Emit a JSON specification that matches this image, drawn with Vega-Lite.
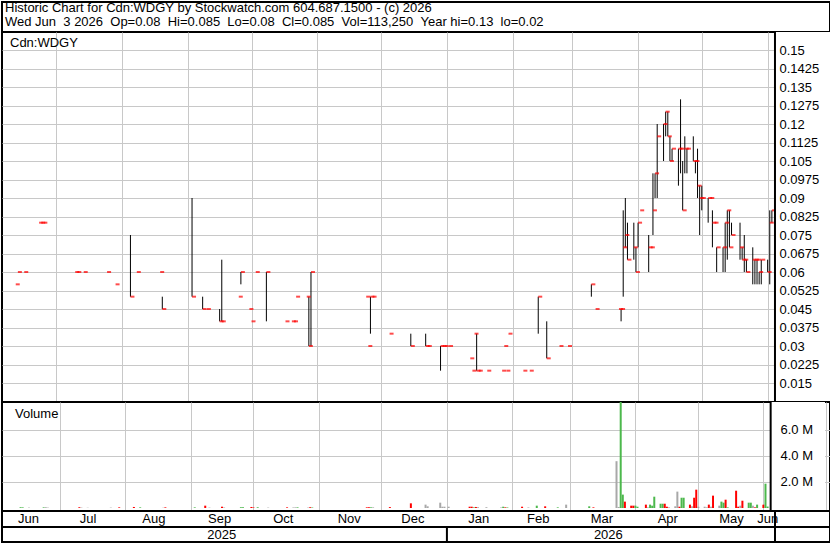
{
  "$schema": "https://vega.github.io/schema/vega-lite/v6.json",
  "background": "white",
  "padding": {"left": 1, "top": 1, "right": 1, "bottom": 1},
  "spacing": 0,
  "bounds": "flush",
  "config": {
    "font": "Liberation Sans",
    "view": {"stroke": "black", "strokeWidth": 2},
    "axis": {"labelFont": "Liberation Sans", "labelFontSize": 13, "labelColor": "black", "gridColor": "#c8c8c8", "gridWidth": 1, "gridOpacity": 1}
  },
  "datasets": {
    "bars": [
      {"d":"2025-06-12","h":0.055,"l":0.055,"c":0.055,"v":60000,"chg":"up"},
      {"d":"2025-06-13","h":0.06,"l":0.06,"c":0.06,"v":50000,"chg":"up"},
      {"d":"2025-06-16","h":0.06,"l":0.06,"c":0.06,"v":30000,"chg":"flat"},
      {"d":"2025-06-23","h":0.08,"l":0.08,"c":0.08,"v":50000,"chg":"up"},
      {"d":"2025-06-24","h":0.08,"l":0.08,"c":0.08,"v":60000,"chg":"flat"},
      {"d":"2025-06-25","h":0.08,"l":0.08,"c":0.08,"v":30000,"chg":"flat"},
      {"d":"2025-07-10","h":0.06,"l":0.06,"c":0.06,"v":60000,"chg":"down"},
      {"d":"2025-07-11","h":0.06,"l":0.06,"c":0.06,"v":30000,"chg":"flat"},
      {"d":"2025-07-14","h":0.06,"l":0.06,"c":0.06,"v":20000,"chg":"flat"},
      {"d":"2025-07-25","h":0.06,"l":0.06,"c":0.06,"v":30000,"chg":"flat"},
      {"d":"2025-07-29","h":0.055,"l":0.055,"c":0.055,"v":50000,"chg":"down"},
      {"d":"2025-08-05","h":0.075,"l":0.05,"c":0.05,"v":80000,"chg":"down"},
      {"d":"2025-08-08","h":0.06,"l":0.06,"c":0.06,"v":50000,"chg":"up"},
      {"d":"2025-08-19","h":0.06,"l":0.06,"c":0.06,"v":20000,"chg":"flat"},
      {"d":"2025-08-20","h":0.05,"l":0.045,"c":0.045,"v":50000,"chg":"down"},
      {"d":"2025-09-03","h":0.09,"l":0.05,"c":0.05,"v":50000,"chg":"up"},
      {"d":"2025-09-08","h":0.05,"l":0.045,"c":0.045,"v":180000,"chg":"down"},
      {"d":"2025-09-10","h":0.045,"l":0.045,"c":0.045,"v":30000,"chg":"flat"},
      {"d":"2025-09-16","h":0.045,"l":0.04,"c":0.04,"v":100000,"chg":"down"},
      {"d":"2025-09-17","h":0.065,"l":0.04,"c":0.04,"v":40000,"chg":"flat"},
      {"d":"2025-09-25","h":0.05,"l":0.05,"c":0.05,"v":60000,"chg":"up"},
      {"d":"2025-09-26","h":0.06,"l":0.055,"c":0.06,"v":60000,"chg":"up"},
      {"d":"2025-09-30","h":0.045,"l":0.045,"c":0.045,"v":80000,"chg":"down"},
      {"d":"2025-10-01","h":0.04,"l":0.04,"c":0.04,"v":40000,"chg":"down"},
      {"d":"2025-10-03","h":0.06,"l":0.06,"c":0.06,"v":50000,"chg":"up"},
      {"d":"2025-10-08","h":0.06,"l":0.04,"c":0.06,"v":30000,"chg":"flat"},
      {"d":"2025-10-17","h":0.04,"l":0.04,"c":0.04,"v":50000,"chg":"down"},
      {"d":"2025-10-20","h":0.04,"l":0.04,"c":0.04,"v":40000,"chg":"flat"},
      {"d":"2025-10-21","h":0.04,"l":0.04,"c":0.04,"v":50000,"chg":"flat"},
      {"d":"2025-10-22","h":0.05,"l":0.05,"c":0.05,"v":50000,"chg":"up"},
      {"d":"2025-10-27","h":0.05,"l":0.05,"c":0.05,"v":30000,"chg":"flat"},
      {"d":"2025-10-28","h":0.05,"l":0.03,"c":0.03,"v":60000,"chg":"down"},
      {"d":"2025-10-29","h":0.06,"l":0.03,"c":0.06,"v":40000,"chg":"up"},
      {"d":"2025-11-24","h":0.05,"l":0.05,"c":0.05,"v":50000,"chg":"down"},
      {"d":"2025-11-25","h":0.03,"l":0.03,"c":0.03,"v":60000,"chg":"down"},
      {"d":"2025-11-26","h":0.05,"l":0.035,"c":0.05,"v":50000,"chg":"up"},
      {"d":"2025-11-27","h":0.05,"l":0.05,"c":0.05,"v":50000,"chg":"flat"},
      {"d":"2025-12-05","h":0.035,"l":0.035,"c":0.035,"v":70000,"chg":"down"},
      {"d":"2025-12-15","h":0.035,"l":0.03,"c":0.03,"v":360000,"chg":"down"},
      {"d":"2025-12-22","h":0.035,"l":0.03,"c":0.03,"v":260000,"chg":"flat"},
      {"d":"2025-12-23","h":0.03,"l":0.03,"c":0.03,"v":130000,"chg":"flat"},
      {"d":"2025-12-29","h":0.03,"l":0.02,"c":0.03,"v":410000,"chg":"flat"},
      {"d":"2025-12-30","h":0.03,"l":0.03,"c":0.03,"v":100000,"chg":"flat"},
      {"d":"2025-12-31","h":0.03,"l":0.03,"c":0.03,"v":100000,"chg":"flat"},
      {"d":"2026-01-02","h":0.03,"l":0.03,"c":0.03,"v":100000,"chg":"flat"},
      {"d":"2026-01-12","h":0.025,"l":0.025,"c":0.025,"v":100000,"chg":"down"},
      {"d":"2026-01-13","h":0.02,"l":0.02,"c":0.02,"v":100000,"chg":"down"},
      {"d":"2026-01-14","h":0.035,"l":0.035,"c":0.035,"v":50000,"chg":"up"},
      {"d":"2026-01-15","h":0.035,"l":0.02,"c":0.02,"v":80000,"chg":"down"},
      {"d":"2026-01-16","h":0.02,"l":0.02,"c":0.02,"v":60000,"chg":"flat"},
      {"d":"2026-01-20","h":0.02,"l":0.02,"c":0.02,"v":60000,"chg":"flat"},
      {"d":"2026-01-27","h":0.02,"l":0.02,"c":0.02,"v":40000,"chg":"flat"},
      {"d":"2026-01-28","h":0.03,"l":0.03,"c":0.03,"v":100000,"chg":"up"},
      {"d":"2026-01-29","h":0.02,"l":0.02,"c":0.02,"v":50000,"chg":"down"},
      {"d":"2026-01-30","h":0.035,"l":0.035,"c":0.035,"v":40000,"chg":"up"},
      {"d":"2026-02-06","h":0.02,"l":0.02,"c":0.02,"v":100000,"chg":"down"},
      {"d":"2026-02-09","h":0.02,"l":0.02,"c":0.02,"v":40000,"chg":"flat"},
      {"d":"2026-02-13","h":0.05,"l":0.035,"c":0.05,"v":180000,"chg":"up"},
      {"d":"2026-02-17","h":0.04,"l":0.025,"c":0.025,"v":130000,"chg":"down"},
      {"d":"2026-02-23","h":0.03,"l":0.03,"c":0.03,"v":50000,"chg":"up"},
      {"d":"2026-02-27","h":0.03,"l":0.03,"c":0.03,"v":260000,"chg":"flat"},
      {"d":"2026-03-10","h":0.055,"l":0.05,"c":0.055,"v":130000,"chg":"up"},
      {"d":"2026-03-12","h":0.045,"l":0.045,"c":0.045,"v":50000,"chg":"down"},
      {"d":"2026-03-23","h":0.045,"l":0.045,"c":0.045,"v":3600000,"chg":"flat"},
      {"d":"2026-03-24","h":0.045,"l":0.04,"c":0.045,"v":80000,"chg":"flat"},
      {"d":"2026-03-25","h":0.085,"l":0.05,"c":0.07,"v":9500000,"chg":"up"},
      {"d":"2026-03-26","h":0.09,"l":0.07,"c":0.075,"v":1030000,"chg":"up"},
      {"d":"2026-03-27","h":0.08,"l":0.065,"c":0.065,"v":490000,"chg":"down"},
      {"d":"2026-03-30","h":0.08,"l":0.065,"c":0.07,"v":180000,"chg":"down"},
      {"d":"2026-03-31","h":0.07,"l":0.06,"c":0.06,"v":180000,"chg":"down"},
      {"d":"2026-04-01","h":0.08,"l":0.07,"c":0.08,"v":180000,"chg":"up"},
      {"d":"2026-04-02","h":0.085,"l":0.085,"c":0.085,"v":100000,"chg":"up"},
      {"d":"2026-04-06","h":0.075,"l":0.06,"c":0.07,"v":260000,"chg":"down"},
      {"d":"2026-04-07","h":0.07,"l":0.07,"c":0.07,"v":50000,"chg":"flat"},
      {"d":"2026-04-08","h":0.1,"l":0.075,"c":0.085,"v":260000,"chg":"up"},
      {"d":"2026-04-09","h":0.1,"l":0.09,"c":0.1,"v":180000,"chg":"up"},
      {"d":"2026-04-10","h":0.12,"l":0.09,"c":0.115,"v":870000,"chg":"up"},
      {"d":"2026-04-13","h":0.12,"l":0.105,"c":0.12,"v":330000,"chg":"up"},
      {"d":"2026-04-14","h":0.125,"l":0.115,"c":0.125,"v":330000,"chg":"up"},
      {"d":"2026-04-15","h":0.125,"l":0.115,"c":0.115,"v":330000,"chg":"down"},
      {"d":"2026-04-16","h":0.115,"l":0.105,"c":0.105,"v":100000,"chg":"down"},
      {"d":"2026-04-17","h":0.11,"l":0.105,"c":0.11,"v":50000,"chg":"flat"},
      {"d":"2026-04-20","h":0.11,"l":0.095,"c":0.11,"v":130000,"chg":"flat"},
      {"d":"2026-04-21","h":0.13,"l":0.1,"c":0.11,"v":1260000,"chg":"flat"},
      {"d":"2026-04-22","h":0.105,"l":0.085,"c":0.085,"v":100000,"chg":"down"},
      {"d":"2026-04-23","h":0.115,"l":0.1,"c":0.11,"v":790000,"chg":"up"},
      {"d":"2026-04-24","h":0.11,"l":0.1,"c":0.11,"v":790000,"chg":"up"},
      {"d":"2026-04-27","h":0.115,"l":0.105,"c":0.105,"v":260000,"chg":"down"},
      {"d":"2026-04-28","h":0.105,"l":0.1,"c":0.105,"v":130000,"chg":"flat"},
      {"d":"2026-04-29","h":0.11,"l":0.09,"c":0.095,"v":790000,"chg":"down"},
      {"d":"2026-04-30","h":0.095,"l":0.075,"c":0.09,"v":1410000,"chg":"down"},
      {"d":"2026-05-01","h":0.095,"l":0.085,"c":0.09,"v":100000,"chg":"flat"},
      {"d":"2026-05-04","h":0.09,"l":0.08,"c":0.09,"v":100000,"chg":"flat"},
      {"d":"2026-05-05","h":0.09,"l":0.09,"c":0.09,"v":50000,"chg":"flat"},
      {"d":"2026-05-06","h":0.085,"l":0.07,"c":0.08,"v":260000,"chg":"down"},
      {"d":"2026-05-07","h":0.08,"l":0.08,"c":0.08,"v":100000,"chg":"flat"},
      {"d":"2026-05-08","h":0.07,"l":0.06,"c":0.07,"v":950000,"chg":"down"},
      {"d":"2026-05-11","h":0.07,"l":0.06,"c":0.07,"v":180000,"chg":"flat"},
      {"d":"2026-05-12","h":0.08,"l":0.06,"c":0.08,"v":490000,"chg":"up"},
      {"d":"2026-05-13","h":0.085,"l":0.065,"c":0.085,"v":410000,"chg":"up"},
      {"d":"2026-05-14","h":0.085,"l":0.07,"c":0.07,"v":640000,"chg":"down"},
      {"d":"2026-05-15","h":0.08,"l":0.075,"c":0.075,"v":50000,"chg":"up"},
      {"d":"2026-05-19","h":0.08,"l":0.065,"c":0.07,"v":1330000,"chg":"down"},
      {"d":"2026-05-20","h":0.07,"l":0.065,"c":0.065,"v":100000,"chg":"down"},
      {"d":"2026-05-21","h":0.075,"l":0.06,"c":0.065,"v":180000,"chg":"flat"},
      {"d":"2026-05-22","h":0.065,"l":0.06,"c":0.06,"v":560000,"chg":"down"},
      {"d":"2026-05-25","h":0.07,"l":0.055,"c":0.065,"v":410000,"chg":"up"},
      {"d":"2026-05-26","h":0.065,"l":0.055,"c":0.065,"v":410000,"chg":"up"},
      {"d":"2026-05-27","h":0.065,"l":0.055,"c":0.065,"v":180000,"chg":"flat"},
      {"d":"2026-05-28","h":0.06,"l":0.055,"c":0.06,"v":50000,"chg":"down"},
      {"d":"2026-05-29","h":0.065,"l":0.055,"c":0.065,"v":260000,"chg":"up"},
      {"d":"2026-06-01","h":0.065,"l":0.06,"c":0.06,"v":260000,"chg":"down"},
      {"d":"2026-06-02","h":0.085,"l":0.055,"c":0.08,"v":1870000,"chg":"up"},
      {"d":"2026-06-03","h":0.085,"l":0.08,"c":0.085,"v":113250,"chg":"up"}
    ],
    "months": [
      {"d":"2025-06-18","t":"Jun"},
      {"d":"2025-07-16","t":"Jul"},
      {"d":"2025-08-16","t":"Aug"},
      {"d":"2025-09-16","t":"Sep"},
      {"d":"2025-10-16","t":"Oct"},
      {"d":"2025-11-16","t":"Nov"},
      {"d":"2025-12-16","t":"Dec"},
      {"d":"2026-01-16","t":"Jan"},
      {"d":"2026-02-13","t":"Feb"},
      {"d":"2026-03-15","t":"Mar"},
      {"d":"2026-04-15","t":"Apr"},
      {"d":"2026-05-15","t":"May"},
      {"d":"2026-06-01","t":"Jun"}
    ],
    "years": [
      {"d":"2025-09-17","t":"2025"},
      {"d":"2026-03-18","t":"2026"}
    ],
    "header": [
      {"line": 1, "t": "Historic Chart for Cdn:WDGY by Stockwatch.com 604.687.1500 - (c) 2026"},
      {"line": 2, "t": "Wed Jun \u00a03 2026 \u00a0Op=0.08 \u00a0Hi=0.085 \u00a0Lo=0.08 \u00a0Cl=0.085 \u00a0Vol=113,250 \u00a0Year hi=0.13 \u00a0lo=0.02"}
    ]
  },
  "vconcat": [
    {
      "width": 828,
      "height": 30,
      "data": {"name": "header"},
      "mark": {"type": "text", "align": "left", "baseline": "middle", "fontSize": 13, "color": "black", "dx": 3},
      "encoding": {
        "x": {"datum": {"year": 2025, "month": 6, "date": 5, "hours": 12, "minutes": 42, "utc": true}, "type": "temporal", "axis": null,
              "scale": {"type": "utc", "nice": false, "domain": [{"year": 2025, "month": 6, "date": 5, "hours": 12, "minutes": 42, "utc": true}, {"year": 2026, "month": 6, "date": 30, "hours": 8, "minutes": 40, "utc": true}]}},
        "y": {"field": "line", "type": "quantitative", "axis": null, "scale": {"domain": [0.533, 2.756], "reverse": true, "nice": false, "zero": false}},
        "text": {"field": "t"}
      }
    },
    {
      "width": 828,
      "height": 370,
      "data": {"name": "bars"},
      "layer": [
        {
          "data": {"values": [{}]},
          "mark": {"type": "rect", "fill": "white"},
          "encoding": {
            "x": {"datum": {"year": 2026, "month": 6, "date": 4, "hours": 11, "utc": true}, "type": "temporal",
                  "scale": {"type": "utc", "nice": false, "domain": [{"year": 2025, "month": 6, "date": 5, "hours": 12, "minutes": 42, "utc": true}, {"year": 2026, "month": 6, "date": 30, "hours": 8, "minutes": 40, "utc": true}]}},
            "x2": {"datum": {"year": 2026, "month": 6, "date": 30, "hours": 8, "minutes": 40, "utc": true}},
            "y": {"datum": 0.0073, "type": "quantitative", "scale": {"domain": [0.0073, 0.1573], "nice": false, "zero": false},
                  "axis": {"orient": "right", "offset": -55, "grid": false, "ticks": false, "domain": false, "labelPadding": 4, "zindex": 1, "title": null,
                           "labelExpr": "'' + datum.value",
                           "values": [0.015, 0.0225, 0.03, 0.0375, 0.045, 0.0525, 0.06, 0.0675, 0.075, 0.0825, 0.09, 0.0975, 0.105, 0.1125, 0.12, 0.1275, 0.135, 0.1425, 0.15]}},
            "y2": {"datum": 0.1573}
          }
        },
        {
          "mark": {"type": "rule", "color": "black", "strokeWidth": 1},
          "encoding": {
            "x": {"field": "d", "type": "temporal",
                  "axis": {"grid": true, "labels": false, "ticks": false, "domain": false, "title": null, "tickCount": {"interval": "month", "step": 1}}},
            "y": {"field": "h", "type": "quantitative",
                  "axis": {"orient": "left", "grid": true, "labels": false, "ticks": false, "domain": false, "title": null,
                           "values": [0.015, 0.0225, 0.03, 0.0375, 0.045, 0.0525, 0.06, 0.0675, 0.075, 0.0825, 0.09, 0.0975, 0.105, 0.1125, 0.12, 0.1275, 0.135, 0.1425, 0.15]}},
            "y2": {"field": "l"}
          }
        },
        {
          "mark": {"type": "tick", "orient": "horizontal", "color": "#ff0000", "size": 4, "thickness": 2, "xOffset": 2},
          "encoding": {
            "x": {"field": "d", "type": "temporal"},
            "y": {"field": "c", "type": "quantitative", "axis": null}
          }
        },
        {
          "data": {"values": [{}]},
          "mark": {"type": "rule", "color": "black", "strokeWidth": 2},
          "encoding": {
            "x": {"datum": {"year": 2026, "month": 6, "date": 4, "hours": 11, "utc": true}, "type": "temporal"}
          }
        },
        {
          "data": {"values": [{}]},
          "mark": {"type": "text", "align": "left", "baseline": "middle", "fontSize": 13, "color": "black", "dx": 8},
          "encoding": {
            "x": {"datum": {"year": 2025, "month": 6, "date": 5, "hours": 12, "minutes": 42, "utc": true}, "type": "temporal"},
            "y": {"datum": 0.1528, "type": "quantitative", "axis": null},
            "text": {"value": "Cdn:WDGY"}
          }
        }
      ],
      "resolve": {"axis": {"y": "independent"}}
    },
    {
      "width": 828,
      "height": 109,
      "data": {"name": "bars"},
      "layer": [
        {
          "data": {"values": [{}]},
          "mark": {"type": "rect", "fill": "white"},
          "encoding": {
            "x": {"datum": {"year": 2026, "month": 6, "date": 4, "hours": 11, "utc": true}, "type": "temporal",
                  "scale": {"type": "utc", "nice": false, "domain": [{"year": 2025, "month": 6, "date": 5, "hours": 12, "minutes": 42, "utc": true}, {"year": 2026, "month": 6, "date": 30, "hours": 8, "minutes": 40, "utc": true}]}},
            "x2": {"datum": {"year": 2026, "month": 6, "date": 30, "hours": 8, "minutes": 40, "utc": true}},
            "y": {"datum": -230000, "type": "quantitative", "scale": {"domain": [-230000, 8150000], "nice": false, "zero": false},
                  "axis": {"orient": "right", "offset": -55, "grid": false, "ticks": false, "domain": false, "labelPadding": 5, "zindex": 1, "title": null,
                           "values": [2000000, 4000000, 6000000], "labelExpr": "format(datum.value / 1000000, '.1f') + ' M'"}},
            "y2": {"datum": 8150000}
          }
        },
        {
          "mark": {"type": "bar", "width": 2, "clip": true},
          "encoding": {
            "x": {"field": "d", "type": "temporal",
                  "axis": {"grid": true, "labels": false, "ticks": false, "domain": false, "title": null, "tickCount": {"interval": "month", "step": 1}}},
            "y": {"field": "v", "type": "quantitative", "stack": null,
                  "axis": {"orient": "left", "grid": true, "labels": false, "ticks": false, "domain": false, "title": null, "values": [2000000, 4000000, 6000000]}},
            "color": {"field": "chg", "type": "nominal", "legend": null,
                      "scale": {"domain": ["up", "down", "flat"], "range": ["#4cb84c", "#ff0000", "#a8a8a8"]}}
          }
        },
        {
          "data": {"values": [{}]},
          "mark": {"type": "rule", "color": "black", "strokeWidth": 2},
          "encoding": {
            "x": {"datum": {"year": 2026, "month": 6, "date": 4, "hours": 11, "utc": true}, "type": "temporal"}
          }
        },
        {
          "data": {"values": [{}]},
          "mark": {"type": "text", "align": "left", "baseline": "middle", "fontSize": 13, "color": "black", "dx": 8},
          "encoding": {
            "x": {"datum": {"year": 2025, "month": 6, "date": 5, "hours": 12, "minutes": 42, "utc": true}, "type": "temporal"},
            "y": {"datum": 7230000, "type": "quantitative", "axis": null},
            "text": {"value": "Volume"}
          }
        }
      ],
      "resolve": {"axis": {"y": "independent"}}
    },
    {
      "width": 828,
      "height": 16,
      "data": {"name": "months"},
      "layer": [
        {
          "mark": {"type": "text", "fontSize": 13, "color": "black", "baseline": "middle"},
          "encoding": {
            "x": {"field": "d", "type": "temporal", "axis": null,
                  "scale": {"type": "utc", "nice": false, "domain": [{"year": 2025, "month": 6, "date": 5, "hours": 12, "minutes": 42, "utc": true}, {"year": 2026, "month": 6, "date": 30, "hours": 8, "minutes": 40, "utc": true}]}},
            "text": {"field": "t"}
          }
        },
        {
          "data": {"values": [{}]},
          "mark": {"type": "rule", "color": "black", "strokeWidth": 2},
          "encoding": {
            "x": {"datum": {"year": 2026, "month": 6, "date": 4, "hours": 11, "utc": true}, "type": "temporal"}
          }
        }
      ]
    },
    {
      "width": 828,
      "height": 15,
      "data": {"name": "years"},
      "layer": [
        {
          "mark": {"type": "text", "fontSize": 13, "color": "black", "baseline": "middle"},
          "encoding": {
            "x": {"field": "d", "type": "temporal", "axis": null,
                  "scale": {"type": "utc", "nice": false, "domain": [{"year": 2025, "month": 6, "date": 5, "hours": 12, "minutes": 42, "utc": true}, {"year": 2026, "month": 6, "date": 30, "hours": 8, "minutes": 40, "utc": true}]}},
            "text": {"field": "t"}
          }
        },
        {
          "data": {"values": [{}]},
          "mark": {"type": "rule", "color": "black", "strokeWidth": 2},
          "encoding": {
            "x": {"datum": {"year": 2026, "month": 1, "date": 1, "utc": true}, "type": "temporal"}
          }
        },
        {
          "data": {"values": [{}]},
          "mark": {"type": "rule", "color": "black", "strokeWidth": 2},
          "encoding": {
            "x": {"datum": {"year": 2026, "month": 6, "date": 4, "hours": 11, "utc": true}, "type": "temporal"}
          }
        }
      ]
    }
  ]
}
